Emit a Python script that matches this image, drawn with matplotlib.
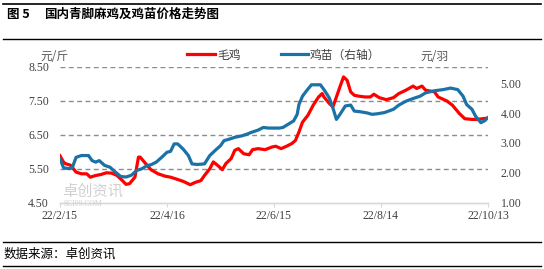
import matplotlib
matplotlib.use('Agg')
import matplotlib.pyplot as plt
from matplotlib.lines import Line2D
import pandas as pd

# ---------------- data ----------------
start_date = '2022-02-15'
# 毛鸡 (元/斤), left axis: day offsets from start_date and prices
red_days = [0, 2, 3, 6, 9, 12, 15, 17, 20, 23, 26, 29, 32, 35, 37, 39, 42, 44, 45, 48,
            51, 55, 59, 62, 65, 69, 73, 76, 79, 81, 84, 86, 89, 91, 93, 96, 98, 100, 103,
            106, 108, 111, 115, 119, 121, 124, 127, 130, 132, 134, 136, 139, 142, 145, 147,
            148, 151, 153, 154, 157, 159, 161, 163, 165, 168, 171, 174, 176, 179, 183, 187,
            190, 194, 198, 200, 203, 205, 210, 212, 217, 220, 224, 227, 231, 234, 237, 240]
red_vals = [5.88, 5.69, 5.65, 5.60, 5.40, 5.35, 5.35, 5.25, 5.30, 5.33, 5.38, 5.37, 5.30,
            5.15, 5.04, 5.06, 5.25, 5.84, 5.84, 5.65, 5.47, 5.35, 5.28, 5.25, 5.20, 5.13,
            5.03, 5.10, 5.15, 5.30, 5.50, 5.70, 5.57, 5.47, 5.65, 5.80, 6.04, 6.09, 5.94,
            5.91, 6.06, 6.09, 6.06, 6.14, 6.16, 6.09, 6.16, 6.24, 6.33, 6.58, 6.87, 7.07,
            7.37, 7.61, 7.71, 7.61, 7.42, 7.32, 7.46, 7.91, 8.20, 8.10, 7.76, 7.66, 7.63,
            7.61, 7.61, 7.69, 7.59, 7.53, 7.59, 7.71, 7.81, 7.93, 7.86, 7.93, 7.81, 7.76,
            7.61, 7.49, 7.37, 7.12, 6.97, 6.95, 6.95, 6.97, 6.99]
# 鸡苗 (元/羽), right axis
blue_days = [0, 2, 5, 7, 9, 12, 16, 18, 20, 22, 25, 28, 31, 34, 37, 40, 43, 46, 49, 51,
             54, 57, 60, 62, 64, 66, 69, 72, 74, 77, 81, 84, 87, 90, 92, 95, 98, 102, 105,
             107, 111, 114, 117, 123, 125, 128, 131, 133, 134, 136, 138, 141, 146, 148, 151,
             153, 155, 157, 160, 163, 165, 168, 172, 175, 178, 182, 187, 190, 194, 198, 202,
             205, 210, 215, 219, 223, 226, 228, 231, 233, 236, 238, 240]
blue_vals = [2.47, 2.17, 2.14, 2.19, 2.52, 2.58, 2.58, 2.41, 2.36, 2.41, 2.25, 2.19, 2.03,
             1.88, 1.86, 1.92, 2.08, 2.14, 2.25, 2.27, 2.36, 2.52, 2.69, 2.72, 2.97, 2.97,
             2.80, 2.58, 2.30, 2.28, 2.30, 2.58, 2.75, 2.91, 3.08, 3.13, 3.19, 3.24, 3.30,
             3.35, 3.43, 3.52, 3.50, 3.50, 3.52, 3.63, 3.74, 3.96, 4.29, 4.57, 4.73, 4.95,
             4.95, 4.79, 4.51, 4.18, 3.79, 3.96, 4.24, 4.27, 4.07, 4.05, 4.01, 3.96, 3.98,
             4.02, 4.13, 4.27, 4.40, 4.49, 4.57, 4.68, 4.75, 4.79, 4.84, 4.79, 4.57, 4.29,
             4.13, 3.90, 3.68, 3.74, 3.85]
tick_days = [0, 60, 120, 180, 240]
tick_labels = ['22/2/15', '22/4/16', '22/6/15', '22/8/14', '22/10/13']
left_ticks = [4.5, 5.5, 6.5, 7.5, 8.5]
right_ticks = [1, 2, 3, 4, 5]
series_names = ['毛鸡', '鸡苗（右轴）']

# ---------------- figure ----------------
W, H = 544, 269
CJK = ['Noto Sans CJK SC', 'DejaVu Sans']
SERIF = ['Liberation Serif', 'DejaVu Serif']
RED = '#FF0000'
BLUE = '#1B72A6'

base = pd.Timestamp(start_date)
red_x = base + pd.to_timedelta(red_days, unit='D')
blue_x = base + pd.to_timedelta(blue_days, unit='D')
tick_x = base + pd.to_timedelta(tick_days, unit='D')

fig = plt.figure(figsize=(W / 100, H / 100), dpi=100)
fig.patch.set_facecolor('white')

ax = fig.add_axes([60 / W, 1 - 202.7 / H, 428 / W, 136 / H])
ax2 = ax.twinx()

ax.set_xlim(tick_x[0], tick_x[-1])
ax.set_ylim(4.5, 8.5)
ax2.set_ylim(1, 5.556)

for y in left_ticks[1:]:
    ax.axhline(y, color='#8C8C8C', lw=1.0, dashes=(3.5, 2.5), zorder=1)

l1, = ax.plot(red_x, red_vals, color=RED, lw=2.3, zorder=3, solid_joinstyle='round')
l2, = ax2.plot(blue_x, blue_vals, color=BLUE, lw=2.3, zorder=3, solid_joinstyle='round')

for a in (ax, ax2):
    for s in ('top', 'left', 'right'):
        a.spines[s].set_visible(False)
    a.spines['bottom'].set_color('#D9D9D9')
    a.spines['bottom'].set_linewidth(1.0)

ax.set_yticks(left_ticks)
ax.set_yticklabels(['%.2f' % v for v in left_ticks], family=SERIF, fontsize=8.5, color='#404040')
ax.tick_params(axis='y', length=0, pad=8)
ax2.set_yticks(right_ticks)
ax2.set_yticklabels(['%.2f' % v for v in right_ticks], family=SERIF, fontsize=8.5, color='#404040')
ax2.tick_params(axis='y', length=0, pad=9)

ax.set_xticks(tick_x)
ax.set_xticklabels(tick_labels, family=SERIF, fontsize=8.5, color='#404040')
ax.tick_params(axis='x', length=3, color='#D9D9D9', pad=2)

# unit labels
fig.text(40 / W, 1 - 56.5 / H, '元/斤', family=CJK, fontsize=8.5, color='#595959',
         ha='left', va='center')
fig.text(420 / W, 1 - 56.5 / H, '元/羽', family=CJK, fontsize=8.5, color='#595959',
         ha='left', va='center')

# legend
leg = fig.legend([l1, l2], series_names, loc='center', bbox_to_anchor=(284 / W, 1 - 55 / H),
                 ncol=2, frameon=False, handlelength=2.3, handletextpad=0.2,
                 columnspacing=3.4, prop={'family': CJK, 'size': 8.5})
for t in leg.get_texts():
    t.set_color('#404040')

# watermark
fig.text(62 / W, 1 - 191 / H, '卓创资讯', family=CJK, fontsize=11, color='#D0D0D0',
         ha='left', va='center', zorder=0)
fig.text(64 / W, 1 - 204 / H, 'SCI99.COM', family=SERIF, fontsize=5.5, color='#D0D0D0',
         ha='left', va='center', zorder=0)

# title and source with rules
fig.add_artist(Line2D([3 / W, 541 / W], [1 - 3.5 / H, 1 - 3.5 / H], color='black', lw=1.2))
fig.add_artist(Line2D([3 / W, 541 / W], [1 - 38.5 / H, 1 - 38.5 / H], color='black', lw=1.0))
fig.add_artist(Line2D([3 / W, 541 / W], [1 - 241.5 / H, 1 - 241.5 / H], color='black', lw=1.0))
fig.add_artist(Line2D([3 / W, 541 / W], [1 - 266 / H, 1 - 266 / H], color='black', lw=1.0))
fig.text(7 / W, 1 - 14.5 / H, '图 5', family=CJK, fontsize=9, fontweight='bold',
         color='black', ha='left', va='center')
fig.text(44 / W, 1 - 14.5 / H, '国内青脚麻鸡及鸡苗价格走势图', family=CJK, fontsize=9,
         fontweight='bold', color='black', ha='left', va='center')
fig.text(4 / W, 1 - 254 / H, '数据来源：卓创资讯', family=CJK, fontsize=9,
         color='black', ha='left', va='center')

fig.savefig('out.png', dpi=100, facecolor='white')
